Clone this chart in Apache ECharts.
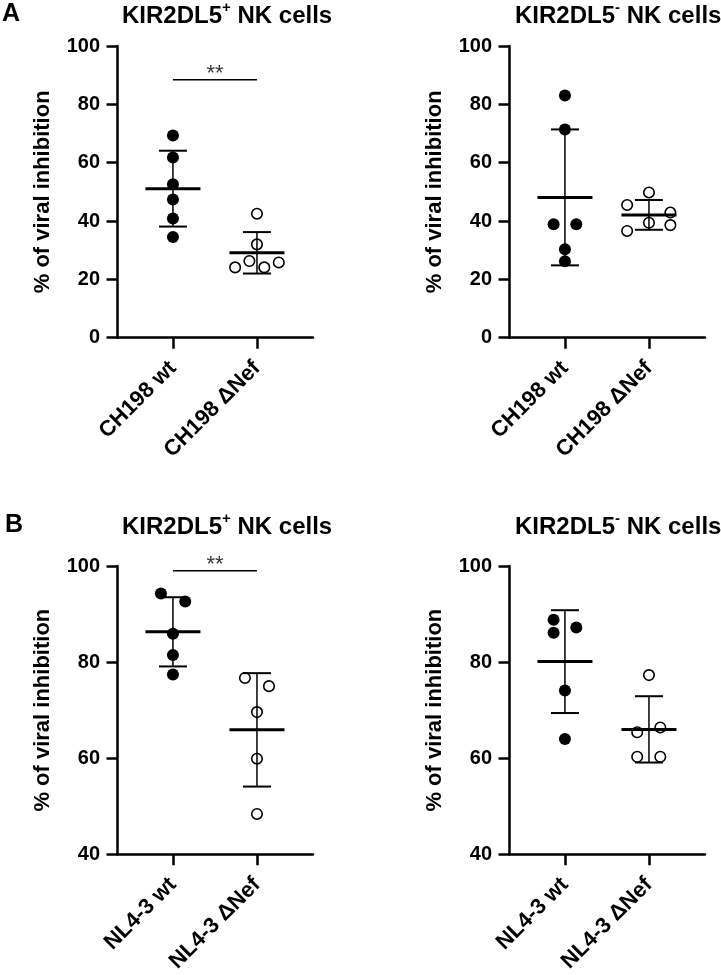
<!DOCTYPE html>
<html>
<head>
<meta charset="utf-8">
<script src="https://cdn.jsdelivr.net/npm/echarts@6/dist/echarts.min.js"></script>
<style>
html,body{margin:0;padding:0;background:#fff;}
#chart{width:721px;height:975px;}
</style>
</head>
<body>
<div id="chart"></div>
<script>
// ---- categories ----
const catsA = ['CH198 wt', 'CH198 \u0394Nef'];
const catsB = ['NL4-3 wt', 'NL4-3 \u0394Nef'];
const titlePos = 'KIR2DL5';
const yName = '% of viral inhibition';

// ---- Panel A, KIR2DL5+ ----
const aPosWt = [69.3, 61.8, 52.6, 47.4, 40.9, 34.5];
const aPosWtJit = [0, 0, 0, 0, 0, 0];
const aPosNef = [42.5, 32.0, 26.3, 24.1, 24.1, 25.8];
const aPosNefJit = [0, 0, -0.09, -0.26, 0.087, 0.26];
const aPosMean = [51.1, 29.1];
const aPosSD = [13.0, 7.1];
const aPosSig = 88.4;

// ---- Panel A, KIR2DL5- ----
const aNegWt = [83.0, 71.4, 38.9, 38.9, 30.3, 26.2];
const aNegWtJit = [0, 0, -0.135, 0.135, 0, 0];
const aNegNef = [49.8, 45.5, 42.9, 39.4, 38.6, 36.6];
const aNegNefJit = [0, -0.26, 0.255, 0, 0.255, -0.26];
const aNegMean = [48.1, 42.1];
const aNegSD = [23.3, 5.1];

// ---- Panel B, KIR2DL5+ ----
const bPosWt = [94.3, 92.6, 85.9, 81.5, 77.4];
const bPosWtJit = [-0.143, 0.146, 0, 0, 0];
const bPosNef = [76.7, 75.0, 69.6, 59.9, 48.4];
const bPosNefJit = [-0.143, 0.143, 0, 0, 0];
const bPosMean = [86.3, 65.9];
const bPosSD = [7.2, 11.8];
const bPosSig = 99.0;

// ---- Panel B, KIR2DL5- ----
const bNegWt = [88.8, 86.1, 87.2, 74.1, 64.0];
const bNegWtJit = [-0.135, -0.135, 0.135, 0, 0];
const bNegNef = [77.3, 65.4, 66.4, 60.3, 60.3];
const bNegNefJit = [0, -0.14, 0.135, -0.14, 0.135];
const bNegMean = [80.1, 66.0];
const bNegSD = [10.7, 6.9];

// ---- axis ranges ----
const yRangeA = [0, 100];
const yRangeB = [40, 100];
const yStep = 20;

const FONT = '"Liberation Sans", Arial, sans-serif';
const chart = echarts.init(document.getElementById('chart'), null, {renderer: 'canvas'});

const grids = [
  {left: 117.5, top: 46, width: 195.5, height: 291.7},
  {left: 509.5, top: 46, width: 195.5, height: 291.7},
  {left: 117.5, top: 566, width: 195.5, height: 292.5},
  {left: 509.5, top: 566, width: 195.5, height: 292.5}
];
const panelCats = [catsA, catsA, catsB, catsB];
const panelRange = [yRangeA, yRangeA, yRangeB, yRangeB];

const axisLineStyle = {color: '#000', width: 2.5};
const xAxes = panelCats.map((cats, i) => ({
  type: 'value', gridIndex: i, min: 0.34, max: 2.667,
  splitLine: {show: false},
  axisLine: {show: true, onZero: false, lineStyle: axisLineStyle},
  axisTick: {show: true, length: 11, lineStyle: axisLineStyle, customValues: [1, 2]},
  axisLabel: {
    show: true, customValues: [1, 2], rotate: 45, margin: 27,
    fontSize: 22, fontWeight: 'bold', color: '#000', fontFamily: FONT,
    formatter: v => cats[Math.round(v) - 1]
  }
}));
const yAxes = panelRange.map((r, i) => ({
  type: 'value', gridIndex: i, min: r[0], max: r[1], interval: yStep,
  name: yName, nameLocation: 'middle', nameGap: 64,
  nameTextStyle: {fontSize: 22, fontWeight: 'bold', color: '#000', fontFamily: FONT},
  splitLine: {show: false},
  axisLine: {show: true, onZero: false, lineStyle: axisLineStyle},
  axisTick: {show: true, length: 11, lineStyle: axisLineStyle},
  axisLabel: {margin: 17.5, fontSize: 20, fontWeight: 'bold', color: '#000', fontFamily: FONT}
}));

function errRender(params, api) {
  const x = api.value(0), m = api.value(1), s = api.value(2);
  const c = api.coord([x, m]);
  const t = api.coord([x, m + s]);
  const b = api.coord([x, m - s]);
  const st = w => ({stroke: '#000', lineWidth: w, fill: null});
  return {type: 'group', children: [
    {type: 'line', shape: {x1: c[0], y1: t[1], x2: c[0], y2: b[1]}, style: st(1.5)},
    {type: 'line', shape: {x1: c[0] - 14, y1: t[1], x2: c[0] + 14, y2: t[1]}, style: st(2)},
    {type: 'line', shape: {x1: c[0] - 14, y1: b[1], x2: c[0] + 14, y2: b[1]}, style: st(2)},
    {type: 'line', shape: {x1: c[0] - 27.5, y1: c[1], x2: c[0] + 27.5, y2: c[1]}, style: st(3)}
  ]};
}

const panels = [
  {wt: aPosWt, wtJ: aPosWtJit, nef: aPosNef, nefJ: aPosNefJit, mean: aPosMean, sd: aPosSD, sig: aPosSig},
  {wt: aNegWt, wtJ: aNegWtJit, nef: aNegNef, nefJ: aNegNefJit, mean: aNegMean, sd: aNegSD, sig: null},
  {wt: bPosWt, wtJ: bPosWtJit, nef: bPosNef, nefJ: bPosNefJit, mean: bPosMean, sd: bPosSD, sig: bPosSig},
  {wt: bNegWt, wtJ: bNegWtJit, nef: bNegNef, nefJ: bNegNefJit, mean: bNegMean, sd: bNegSD, sig: null}
];

const series = [];
panels.forEach((p, i) => {
  series.push({
    type: 'custom', xAxisIndex: i, yAxisIndex: i, renderItem: errRender, z: 3,
    data: p.mean.map((m, k) => [k + 1, m, p.sd[k]])
  });
  series.push({
    type: 'scatter', xAxisIndex: i, yAxisIndex: i, symbol: 'circle', symbolSize: 12, z: 4,
    itemStyle: {color: '#000', opacity: 1},
    data: p.wt.map((v, k) => [1 + p.wtJ[k], v])
  });
  series.push({
    type: 'scatter', xAxisIndex: i, yAxisIndex: i, symbol: 'circle', symbolSize: 10.5, z: 4,
    itemStyle: {color: 'rgba(0,0,0,0)', borderColor: '#000', borderWidth: 1.6, opacity: 1},
    data: p.nef.map((v, k) => [2 + p.nefJ[k], v])
  });
  if (p.sig !== null) {
    series.push({
      type: 'line', xAxisIndex: i, yAxisIndex: i, symbol: 'none', z: 3,
      lineStyle: {color: '#000', width: 1.5},
      data: [[1, p.sig], [2, p.sig]]
    });
    series.push({
      type: 'scatter', xAxisIndex: i, yAxisIndex: i, symbolSize: 1, z: 3,
      itemStyle: {color: 'rgba(0,0,0,0)'},
      label: {show: true, position: 'inside', offset: [0, -6], formatter: '**',
        fontSize: 22, color: '#000', fontFamily: FONT},
      data: [[1.5, p.sig]]
    });
  }
});

const richT = {
  m: {fontSize: 24, fontWeight: 'bold', color: '#000', fontFamily: FONT, lineHeight: 28, verticalAlign: 'bottom'},
  s: {fontSize: 15, fontWeight: 'bold', color: '#000', fontFamily: FONT, lineHeight: 28, verticalAlign: 'top', padding: [0, 0, 0, 0]}
};
const mkTitle = (left, top, sup) => ({
  left: left, top: top, padding: 0,
  text: '{m|' + titlePos + '}{s|' + sup + '}{m| NK cells}',
  textStyle: {rich: richT}
});
const mkLetter = (left, top, t) => ({
  left: left, top: top, padding: 0, text: t,
  textStyle: {fontSize: 25, fontWeight: 'bold', color: '#000', fontFamily: FONT}
});

chart.setOption({
  animation: false,
  backgroundColor: '#fff',
  title: [
    mkLetter(2, 2, 'A'),
    mkLetter(5, 513, 'B'),
    mkTitle(122, 0, '+'),
    mkTitle(515, 0, '-'),
    mkTitle(122, 511, '+'),
    mkTitle(515, 511, '-')
  ],
  grid: grids,
  xAxis: xAxes,
  yAxis: yAxes,
  series: series
});
</script>
</body>
</html>
